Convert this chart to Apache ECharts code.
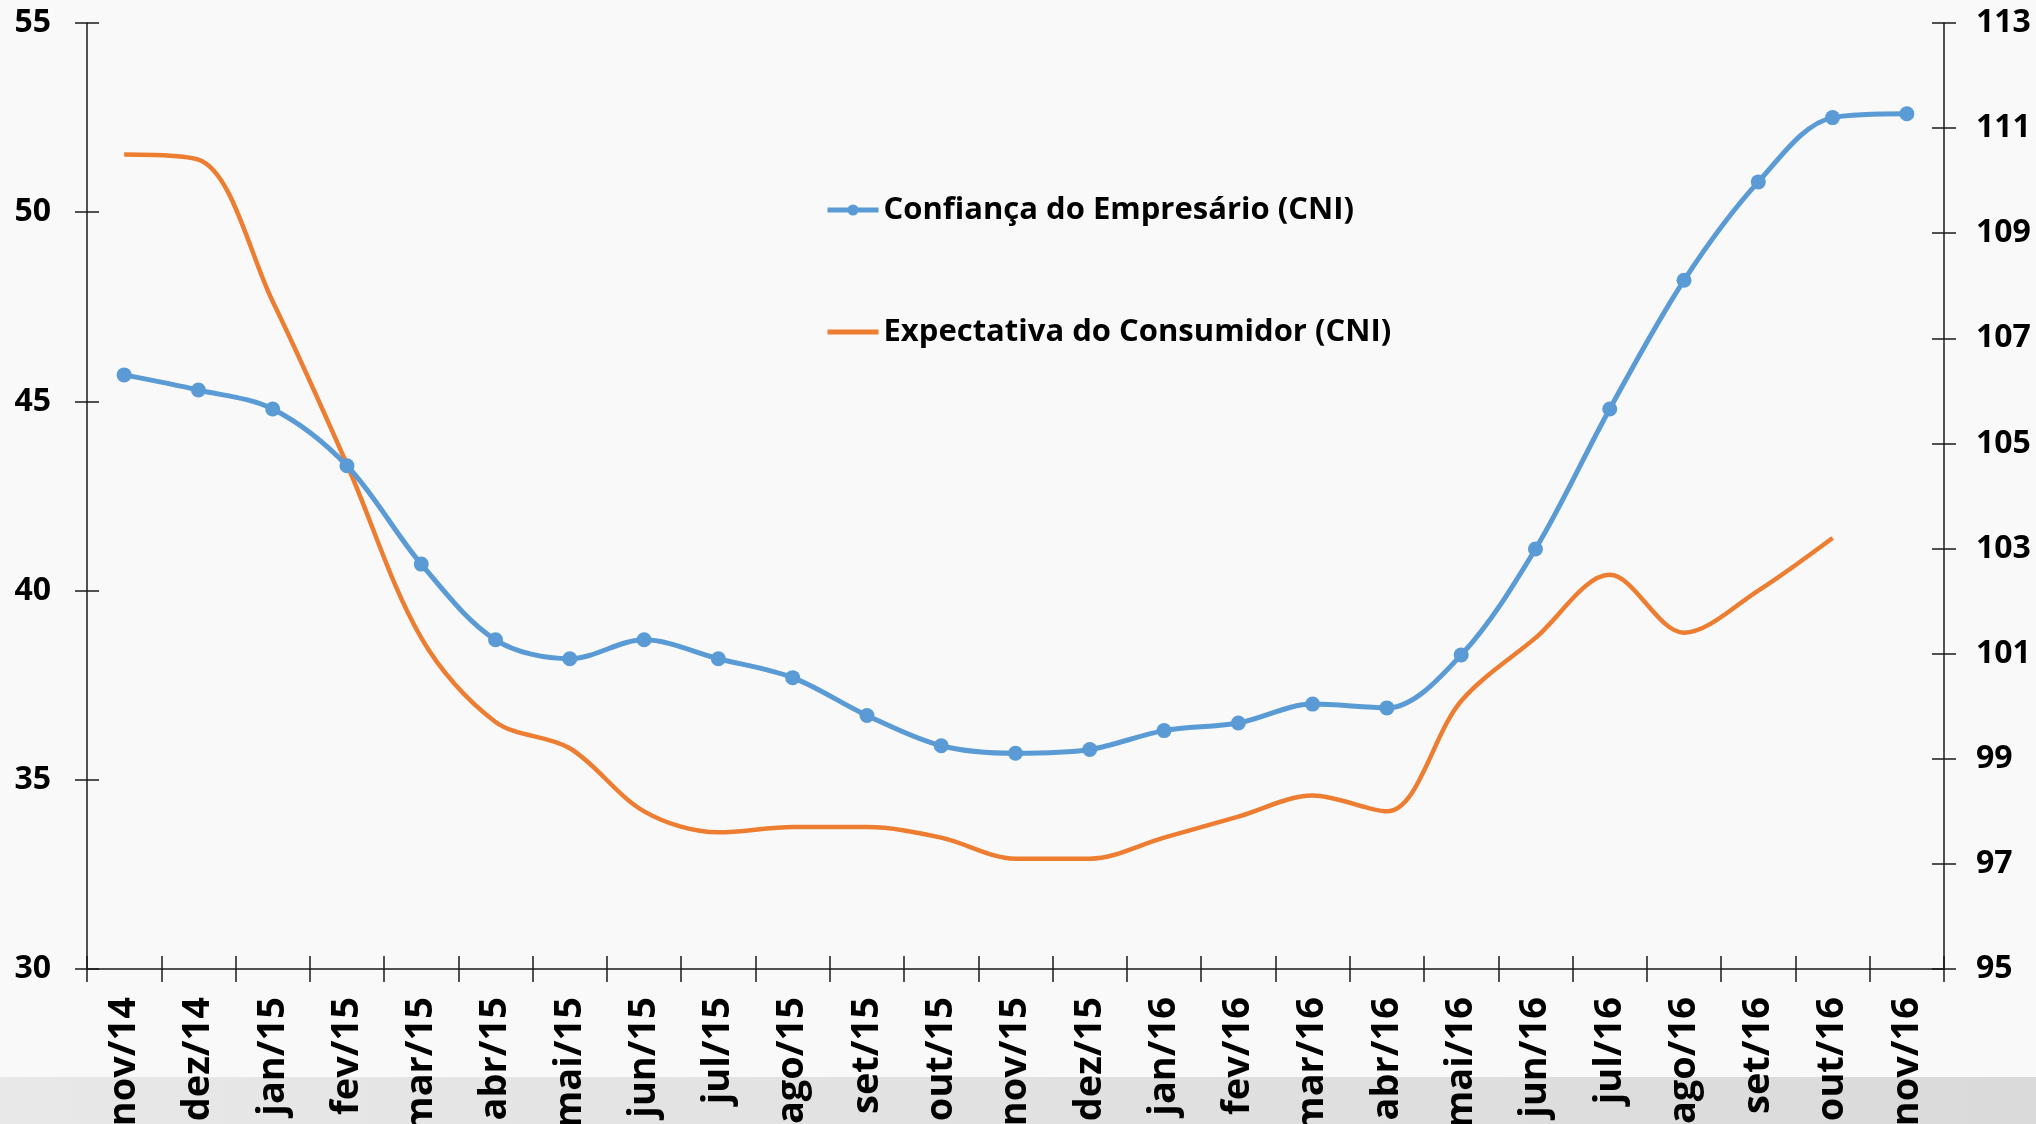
<!DOCTYPE html>
<html>
<head>
<meta charset="utf-8">
<script src="https://cdn.jsdelivr.net/npm/echarts@6/dist/echarts.min.js"></script>
<style>
  html, body { margin: 0; padding: 0; background: #f9f9f9; }
  #chart { width: 2036px; height: 1124px; }
</style>
</head>
<body>
<div id="chart"></div>
<script>
// meses
const categories = ['nov/14','dez/14','jan/15','fev/15','mar/15','abr/15','mai/15','jun/15','jul/15','ago/15','set/15','out/15',
  'nov/15','dez/15','jan/16','fev/16','mar/16','abr/16','mai/16','jun/16','jul/16','ago/16','set/16','out/16','nov/16'];

// eixo esquerdo
const confianca = [45.7,45.3,44.8,43.3,40.7,38.7,38.2,38.7,38.2,37.7,36.7,35.9,
  35.7,35.8,36.3,36.5,37.0,36.9,38.3,41.1,44.8,48.2,50.8,52.5,52.6];

// eixo direito (sem valor para nov/16)
const expectativa = [110.5,110.4,107.7,104.6,101.3,99.7,99.2,98.0,97.6,97.7,97.7,97.5,
  97.1,97.1,97.5,97.9,98.3,98.0,100.1,101.3,102.5,101.4,102.2,103.2,null];

const leftTicks = {min: 30, max: 55, interval: 5};
const rightTicks = {min: 95, max: 113, interval: 2};

const font = '"Open Sans", Lato, sans-serif';
const axisColor = '#1a1a1a';
const blue = '#5b9bd5';
const orange = '#ed7d31';

var myChart = echarts.init(document.getElementById('chart'));

const yBase = (t, pos, inside, showLabel) => ({
    type: 'value',
    position: pos,
    min: t.min,
    max: t.max,
    interval: t.interval,
    splitLine: {show: false},
    axisLine: {show: showLabel, onZero: false, lineStyle: {color: axisColor, width: 1.5}},
    axisTick: {show: true, inside: inside, length: 12, lineStyle: {color: axisColor, width: 1.5}},
    axisLabel: {
        show: showLabel,
        margin: pos == 'left' ? 36 : 32,
        color: '#000',
        fontFamily: font,
        fontWeight: 'bold',
        fontSize: 32
    }
});

myChart.setOption({
    backgroundColor: '#f9f9f9',
    animation: false,
    graphic: [{
        type: 'rect',
        z: -10,
        shape: {x: 0, y: 1077, width: 2036, height: 47},
        style: {
            fill: new echarts.graphic.LinearGradient(0, 0, 1, 0, [
                {offset: 0, color: '#e8e8e8'},
                {offset: 1, color: '#dadada'}
            ])
        }
    }],
    grid: {
        left: 87,
        right: 92,
        top: 23,
        bottom: 155,
        containLabel: false,
        outerBoundsMode: 'none'
    },
    legend: {
        orient: 'vertical',
        left: 820,
        top: 186,
        itemWidth: 51,
        itemHeight: 14,
        itemGap: 84,
        textStyle: {
            fontFamily: font,
            fontWeight: 'bold',
            fontSize: 31,
            color: '#000',
            lineHeight: 38
        },
        data: [
            {name: 'Confiança do Empresário (CNI)', lineStyle: {width: 5}},
            {name: 'Expectativa do Consumidor (CNI)', icon: 'path://M0 0H100V10H0Z'}
        ]
    },
    xAxis: [{
        type: 'category',
        data: categories,
        boundaryGap: true,
        axisLine: {onZero: false, lineStyle: {color: axisColor, width: 1.5}},
        axisTick: {show: true, length: 13, lineStyle: {color: axisColor, width: 1.5}},
        axisLabel: {
            interval: 0,
            rotate: 90,
            margin: 28,
            color: '#000',
            fontFamily: font,
            fontWeight: 'bold',
            fontSize: 38
        }
    }, {
        // ticks para dentro, para cruzar o eixo
        type: 'category',
        data: categories,
        position: 'bottom',
        boundaryGap: true,
        axisLine: {show: false, onZero: false},
        axisTick: {show: true, inside: true, length: 13, lineStyle: {color: axisColor, width: 1.5}},
        axisLabel: {show: false}
    }],
    yAxis: [
        yBase(leftTicks, 'left', false, true),
        yBase(rightTicks, 'right', false, true),
        yBase(leftTicks, 'left', true, false),
        yBase(rightTicks, 'right', true, false)
    ],
    series: [{
        name: 'Confiança do Empresário (CNI)',
        type: 'line',
        xAxisIndex: 0,
        yAxisIndex: 0,
        data: confianca,
        smooth: 0.33,
        symbol: 'circle',
        symbolSize: 15,
        itemStyle: {color: blue},
        lineStyle: {color: blue, width: 5},
        z: 3
    }, {
        name: 'Expectativa do Consumidor (CNI)',
        type: 'line',
        xAxisIndex: 0,
        yAxisIndex: 1,
        data: expectativa,
        smooth: 0.33,
        symbol: 'none',
        itemStyle: {color: orange},
        lineStyle: {color: orange, width: 4.5},
        z: 2
    }]
});
</script>
</body>
</html>
